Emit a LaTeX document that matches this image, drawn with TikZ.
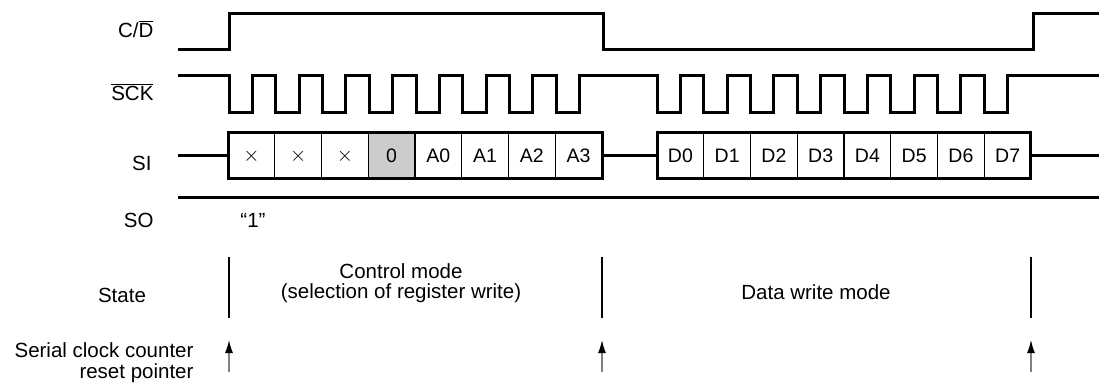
\documentclass[tikz,border=0pt]{standalone}
\usepackage{fontspec}
\setmainfont{Liberation Sans}
\usetikzlibrary{arrows.meta}

\tikzset{
  wave/.style={line width=3pt},
  lbl/.style={anchor=base east,font=\fontsize{20.5}{24}\selectfont},
  txt/.style={anchor=base,font=\fontsize{20.5}{24}\selectfont},
  bitcell/.style={font=\fontsize{19.5}{22}\selectfont},
  statemark/.style={line width=1.5pt},
  resetarrow/.style={line width=1.3pt,draw=black!50,-{Latex[length=13pt,width=8pt,black]}},
}

\begin{document}
\begin{tikzpicture}[x=1pt,y=-1pt]
    \useasboundingbox (0,0) rectangle (1099,386);
    % signal names
    \node[lbl] (cdname) at (157,37) {C/$\overline{\mbox{D}}$};
    \node[lbl] (sckname) at (157,100) {$\overline{\mbox{SCK}}$};
    \node[lbl] (siname) at (155,170) {SI};
    \node[lbl] (soname) at (157,227) {SO};
    \node[txt] (statename) at (122,302) {State};
    \node[lbl] (rstname1) at (197,357) {Serial clock counter};
    \node[lbl] (rstname2) at (197,378) {reset pointer};
    % C/D
    \draw[wave] (178,49) -- (229,49) -- (229,13) -- (603,13) -- (603,49)
      -- (1033,49) -- (1033,13) -- (1099,13) ;
    % SCK
    \draw[wave] (178,75) -- (229,75)
      foreach \i in {0,...,7} { -- ({229+46.75*\i},75) -- ++(0,37) -- ++(23.4,0) -- ++(0,-37) }
      -- (657,75)
      foreach \i in {0,...,7} { -- ({657+46.75*\i},75) -- ++(0,37) -- ++(23.4,0) -- ++(0,-37) }
      -- (1099,75) ;
    % SI
    \fill[gray!40] ({228+46.75*3},132) rectangle ++(46.75,46) ;
    \foreach \i in {1,...,7} {
      \draw[line width=1.2pt] ({228+46.75*\i},132) -- ++(0,46) ;
      \draw[line width=1.2pt] ({657+46.75*\i},132) -- ++(0,46) ;
    }
    \draw[wave] (178,155) -- (228,155) ;
    \draw[wave] (228,132) rectangle (602,178) ;
    \draw[wave] (602,155) -- (657,155) ;
    \draw[wave] (657,132) rectangle (1030,178) ;
    \draw[wave] (1030,155) -- (1099,155) ;
    \foreach \b [count=\i from 0] in {$\times$,$\times$,$\times$,0,A0,A1,A2,A3}
      \node[bitcell] (ctl\i) at ({228+46.75*(\i+0.5)},156) {\b} ;
    \foreach \i in {0,...,7}
      \node[bitcell] (dat\i) at ({657+46.75*(\i+0.5)},156) {D\i} ;
    % SO
    \draw[wave] (178,197) -- (1099,197) ;
    \node[txt] (soval) at (253,227) {“1”};
    % state
    \foreach \x [count=\i] in {229,602,1031} {
      \draw[statemark] (\x,257) -- (\x,318) ;
      \coordinate (rstfoot\i) at (\x,372) ;
      \coordinate (rsttip\i) at (\x,340) ;
      \draw[resetarrow] (rstfoot\i) -- (rsttip\i) ;
    }
    \node[txt] (ctlmode1) at (401,278) {Control mode};
    \node[txt] (ctlmode2) at (401,298) {(selection of register write)};
    \node[txt] (datmode) at (816,299) {Data write mode};
\end{tikzpicture}
\end{document}
